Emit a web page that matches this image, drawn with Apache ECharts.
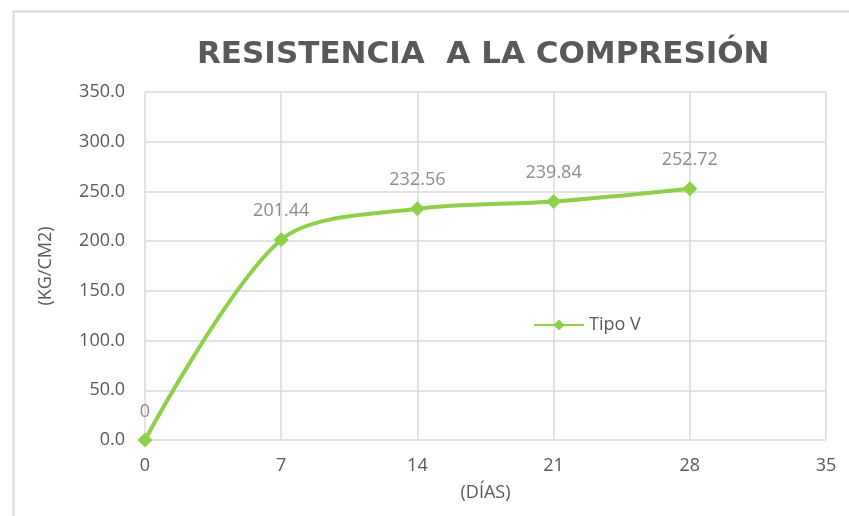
<!DOCTYPE html>
<html>
<head>
<meta charset="utf-8">
<script src="https://cdn.jsdelivr.net/npm/echarts@6/dist/echarts.min.js"></script>
<style>
  html, body { margin: 0; padding: 0; background: #fff; }
  #chart { width: 849px; height: 516px; }
</style>
</head>
<body>
<div id="chart"></div>
<script>
// datos
var dias = [0, 7, 14, 21, 28];
var resistencia = [0, 201.44, 232.56, 239.84, 252.72];
var etiquetas = ['0', '201.44', '232.56', '239.84', '252.72'];

var verde = '#8fd04a';
var gris = '#595959';

var chart = echarts.init(document.getElementById('chart'));

var option = {
  backgroundColor: '#fff',
  textStyle: { fontFamily: 'Open Sans' },
  title: {
    text: 'RESISTENCIA  A LA COMPRESIÓN',
    left: 197,
    top: 39,
    padding: 0,
    textStyle: {
      color: gris,
      fontSize: 31,
      fontWeight: 'bold',
      fontFamily: 'DejaVu Sans'
    }
  },
  graphic: [{
    type: 'rect',
    left: 11,
    top: 9,
    shape: { width: 845, height: 515 },
    style: { fill: null, stroke: '#d9d9d9', lineWidth: 2 },
    silent: true
  }],
  legend: {
    left: 528,
    top: 311,
    itemWidth: 50,
    itemHeight: 14,
    itemGap: 4,
    textStyle: { color: gris, fontSize: 18, fontFamily: 'Open Sans' },
    data: ['Tipo V']
  },
  grid: { left: 145, right: 23, top: 92, bottom: 76 },
  xAxis: {
    type: 'value',
    min: 0,
    max: 35,
    interval: 7,
    name: '(DÍAS)',
    nameLocation: 'middle',
    nameGap: 44,
    nameTextStyle: { color: gris, fontSize: 18 },
    axisLine: { show: false },
    axisTick: { show: false },
    axisLabel: { color: gris, fontSize: 18, margin: 17 },
    splitLine: { show: true, lineStyle: { color: '#d9d9d9', width: 1.5 } }
  },
  yAxis: {
    type: 'value',
    min: 0,
    max: 350,
    interval: 50,
    name: '(KG/CM2)',
    nameLocation: 'middle',
    nameGap: 90,
    nameRotate: 90,
    nameTextStyle: { color: gris, fontSize: 18 },
    axisLine: { show: false },
    axisTick: { show: false },
    axisLabel: {
      color: gris,
      fontSize: 18,
      margin: 20,
      formatter: function (v) { return v.toFixed(1); }
    },
    splitLine: { lineStyle: { color: '#d9d9d9', width: 1.5 } }
  },
  series: [{
    name: 'Tipo V',
    type: 'line',
    smooth: 0.3,
    data: dias.map(function (d, i) { return [d, resistencia[i]]; }),
    symbol: 'diamond',
    symbolSize: 15,
    itemStyle: { color: verde },
    lineStyle: { color: verde, width: 4 },
    label: {
      show: true,
      position: 'top',
      distance: 12,
      color: '#8c8c8c',
      fontSize: 18,
      formatter: function (p) { return etiquetas[p.dataIndex]; }
    }
  }]
};

chart.setOption(option);
</script>
</body>
</html>
